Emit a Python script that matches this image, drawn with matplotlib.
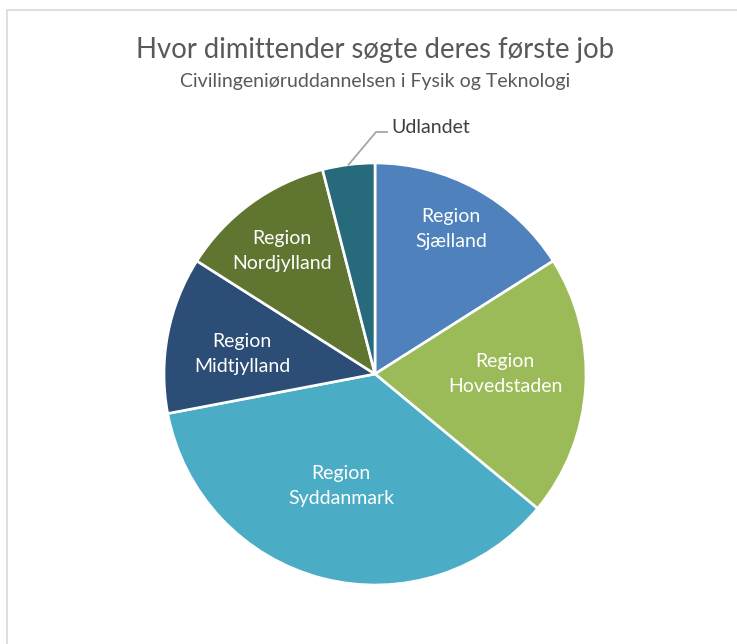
import matplotlib
matplotlib.use("Agg")
import matplotlib.pyplot as plt
from matplotlib.patches import Rectangle
import numpy as np

categories = ["Region\nSjælland", "Region\nHovedstaden", "Region\nSyddanmark",
              "Region\nMidtjylland", "Region\nNordjylland", "Udlandet"]
values = [16, 20, 36, 12, 12, 4]
colors = ["#4F81BD", "#9BBB59", "#4BACC6", "#2C4D75", "#5F7530", "#276A7C"]
title = "Hvor dimittender søgte deres første job"
subtitle = "Civilingeniøruddannelsen i Fysik og Teknologi"

W, H = 737, 644
fig = plt.figure(figsize=(W / 100, H / 100), dpi=100)
ax = fig.add_axes([0, 0, 1, 1])

plt.rcParams["font.family"] = ["Lato", "DejaVu Sans"]

# chart frame
fig.patches.append(Rectangle((7 / W, -0.1), 1.2, (H - 10) / H + 0.1,
                             transform=fig.transFigure, fill=False,
                             edgecolor="#D9D9D9", linewidth=1.2))

cx, cy, R = 375, H - 374, 211
wedges, _ = ax.pie(values, colors=colors, startangle=90, counterclock=False,
                   center=(cx, cy), radius=R, frame=True,
                   wedgeprops=dict(edgecolor="white", linewidth=1.9))
ax.set_xlim(0, W)
ax.set_ylim(0, H)
ax.axis("off")

# label placement (fraction of radius, angular offset from wedge middle)
label_r = [0.776, 0.616, 0.555, 0.637, 0.731]
label_off = [1.1, 3.6, -2.5, 2.2, 1.1]
for w, lab, r, off in zip(wedges[:5], categories[:5], label_r, label_off):
    mid = np.deg2rad((w.theta1 + w.theta2) / 2 + off)
    ax.text(cx + r * R * np.cos(mid), cy + r * R * np.sin(mid), lab,
            ha="center", va="center", color="white", fontsize=14,
            linespacing=1.55)

# Udlandet outside label with leader line
w = wedges[5]
mid = np.deg2rad((w.theta1 + w.theta2) / 2)
px, py = cx + R * np.cos(mid), cy + R * np.sin(mid)
ax.plot([px, 376, 387], [py, H - 132, H - 132], color="#A6A6A6", lw=1.3)
ax.text(391, H - 127, categories[5], ha="left", va="center",
        color="#404040", fontsize=14)

fig.text(375 / W, 1 - 58 / H, title, ha="center", va="baseline",
         fontsize=19.8, color="#595959")
fig.text(375 / W, 1 - 87 / H, subtitle, ha="center", va="baseline",
         fontsize=14, color="#595959")

fig.savefig("out.png", dpi=100)
